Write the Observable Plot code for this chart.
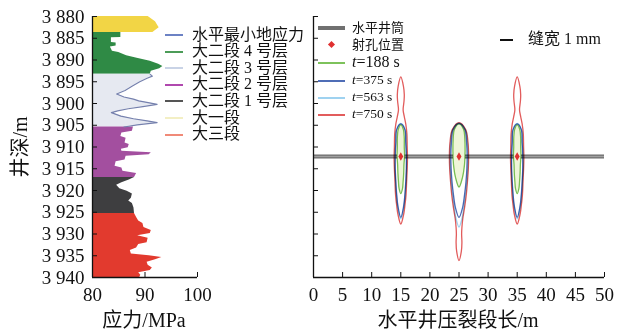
<!DOCTYPE html>
<html><head><meta charset="utf-8">
<script src="https://cdn.jsdelivr.net/npm/d3@7"></script>
<script src="https://cdn.jsdelivr.net/npm/@observablehq/plot@0.6"></script>
<style>
body{margin:0;background:#fff;}
#wrap{position:relative;width:627px;height:334px;overflow:hidden;font-family:"Liberation Serif","Noto Sans CJK SC",serif;color:#111;}
#wrap svg{position:absolute;left:0;top:0;}
.lg{position:absolute;white-space:nowrap;line-height:1;}
.sw{position:absolute;}
</style></head><body><div id="wrap"></div>
<script>
// ---------- data ----------
const depthTicks = [3880,3885,3890,3895,3900,3905,3910,3915,3920,3925,3930,3935,3940];
const stressTicks = [80,90,100];
const lengthTicks = [0,5,10,15,20,25,30,35,40,45,50];

const layerNames = ["大一段","大二段 4 号层","大二段 3 号层","大二段 2 号层","大二段 1 号层","大三段"];
const layerColors = ["#f2d545","#2f8a45","#e6e9f1","#a34f9f","#3e3e40","#e23a2e"];

const depthL1 = [3880,3880.5,3881.2,3882,3882.6,3883.2,3883.7];
const stressL1 = [90.6,91.2,92.0,92.4,92.7,92.0,91.5];
const depthL24 = [3883.7,3884.8,3884.9,3886.0,3886.1,3886.8,3887.0,3888.0,3888.3,3889.0,3889.6,3890.3,3891.0,3891.5,3892.0,3892.6,3893.3];
const stressL24 = [85.4,85.4,83.6,83.6,84.5,84.5,83.4,83.8,85.0,86.5,88.5,91.0,92.6,93.4,92.8,91.2,91.0];
const depthL23 = [3893.3,3893.7,3894.2,3895.0,3896.0,3897.0,3897.8,3898.5,3899.0,3899.4,3899.8,3900.2,3900.7,3901.2,3901.7,3902.1,3902.9,3903.5,3904.0,3904.4,3904.9,3905.4];
const stressL23 = [91.0,91.4,90.4,89.0,87.6,86.2,84.6,86.0,87.8,88.8,90.6,92.3,89.6,86.8,84.8,83.6,85.4,87.8,90.4,92.3,88.5,86.0];
const depthL22 = [3905.4,3906.4,3906.8,3907.6,3908.0,3909.1,3909.4,3910.2,3910.5,3911.0,3911.3,3911.8,3912.1,3913.0,3913.4,3914.4,3914.8,3915.6,3916.1,3917.0];
const stressL22 = [87.8,87.6,85.6,85.4,86.4,86.2,87.0,86.8,85.5,85.6,91.2,90.8,86.4,86.2,84.5,84.3,85.6,85.8,88.4,88.0];
const depthL21 = [3917.0,3917.6,3918.2,3918.8,3919.6,3920.2,3920.8,3921.8,3922.4,3923.0,3924.0,3925.3];
const stressL21 = [88.0,87.0,85.6,84.6,85.2,86.6,87.6,87.4,86.9,87.6,87.9,88.0];
const depthL3 = [3925.3,3926.2,3927.0,3927.6,3928.5,3929.2,3929.9,3930.4,3931.0,3932.0,3932.4,3933.2,3933.8,3934.6,3935.0,3935.4,3935.9,3936.5,3937.2,3937.8,3938.4,3938.9,3939.5,3940];
const stressL3 = [88.0,88.4,88.8,89.6,89.8,91.2,91.0,88.6,90.6,90.4,88.8,88.4,87.2,87.4,90.8,93.2,92.0,90.4,90.6,91.4,91.0,88.8,89.2,89.0];

const leftLegendLabels = ["水平最小地应力","大二段 4 号层","大二段 3 号层","大二段 2 号层","大二段 1 号层","大一段","大三段"];
const leftLegendColors = ["#6c82c4","#4c9c58","#c9d3e6","#b048ae","#555555","#f3efc4","#f08a78"];

const fracCenters = [15,25,35];
const wellDepth = 3912.2;
const timeLabels = ["t=750 s","t=563 s","t=375 s","t=188 s"];
const timeColors = ["#e25c5c","#9fd2f0","#4f6db6","#7dc25b"];

// side fractures (15 m, 35 m): depth and half-width (m) of each contour
const sideDepth750 = [3893.9,3896,3898,3899.5,3901.5,3903,3904.7,3907,3910,3912.3,3915,3918,3921,3923.5,3925.4,3927.7];
const sideHalf750 = [0,0.45,0.6,0.55,0.4,0.6,0.85,1.05,1.1,1.15,1.1,1.0,0.9,0.7,0.5,0];
const sideDepth563 = [3904.6,3906,3909,3912,3915,3918,3921,3924,3926.5];
const sideHalf563 = [0,0.75,0.9,1.0,1.0,0.9,0.75,0.5,0];
const sideDepth375 = [3904.7,3906,3909,3912,3915,3918,3921,3923.5,3926.2];
const sideHalf375 = [0,0.7,0.85,0.95,0.95,0.85,0.7,0.5,0];
const sideDepth188 = [3904.9,3906,3908,3910,3912,3914,3916,3918,3919.5,3920.7];
const sideHalf188 = [0,0.45,0.6,0.6,0.65,0.55,0.5,0.4,0.3,0];
// middle fracture (25 m)
const midDepth750 = [3904.4,3906,3909,3912,3915,3918,3921,3924,3926.5,3928.5,3930,3932,3934,3936.1];
const midHalf750 = [0,1.15,1.55,1.65,1.6,1.45,1.25,0.95,0.65,0.5,0.45,0.5,0.4,0];
const midDepth563 = [3904.5,3906,3909,3912,3915,3918,3921,3924,3926.5,3928.4];
const midHalf563 = [0,1.1,1.45,1.55,1.5,1.35,1.1,0.8,0.5,0];
const midDepth375 = [3904.6,3906,3909,3912,3915,3918,3921,3924,3926.2];
const midHalf375 = [0,1.0,1.3,1.4,1.35,1.2,0.95,0.6,0];
const midDepth188 = [3904.7,3906,3908,3911,3914,3917,3919.2];
const midHalf188 = [0,0.8,1.0,1.05,0.95,0.6,0];

// ---------- build tables ----------
const layerData = [
  [depthL1,stressL1],[depthL24,stressL24],[depthL23,stressL23],
  [depthL22,stressL22],[depthL21,stressL21],[depthL3,stressL3]
].flatMap(([ds,ss],i)=>ds.map((d,j)=>({depth:d,stress:ss[j],layer:layerNames[i]})));
const curve23 = layerData.filter(r=>r.layer===layerNames[2]);

function outline(center,time,depths,half){
  const right = depths.map((d,i)=>({x:center+half[i],depth:d}));
  const left = depths.slice(1,-1).map((d,i)=>({x:center-half[i+1],depth:d})).reverse();
  return [...right,...left].map(p=>({...p,id:center+"|"+time,time}));
}
const sideProfiles = {"t=750 s":[sideDepth750,sideHalf750],"t=563 s":[sideDepth563,sideHalf563],"t=375 s":[sideDepth375,sideHalf375],"t=188 s":[sideDepth188,sideHalf188]};
const midProfiles = {"t=750 s":[midDepth750,midHalf750],"t=563 s":[midDepth563,midHalf563],"t=375 s":[midDepth375,midHalf375],"t=188 s":[midDepth188,midHalf188]};
const fracData = [];
for (const t of timeLabels) for (const c of fracCenters) {
  const [ds,hs] = (c===25?midProfiles:sideProfiles)[t];
  fracData.push(...outline(c,t,ds,hs));
}
const perfData = fracCenters.map(c=>({x:c,depth:wellDepth}));

const fmtDepth = d => { const s=String(d); return s.slice(0,1)+" "+s.slice(1); };
const svgStyle = {background:"transparent",fontFamily:"'Liberation Serif','Noto Sans CJK SC',serif",fontSize:"19px",color:"#111",overflow:"visible"};

// ---------- left panel ----------
const left = Plot.plot({
  width:627,height:334,marginLeft:92,marginRight:430,marginTop:16,marginBottom:57,
  style:svgStyle,
  x:{domain:[80,100]},
  y:{domain:[3880,3940],reverse:true},
  color:{domain:layerNames,range:layerColors},
  marks:[
    Plot.areaX(layerData,{y:"depth",x1:80,x2:"stress",fill:"layer",z:"layer"}),
    Plot.lineX(curve23,{x:"stress",y:"depth",stroke:"#7580ad",strokeWidth:1.2}),
    Plot.ruleX([80],{stroke:"#111",strokeWidth:1.3}),
    Plot.ruleY([3940],{stroke:"#111",strokeWidth:1.3}),
    Plot.axisY({ticks:depthTicks,tickFormat:fmtDepth,tickSize:-5,tickPadding:13,label:null,fontSize:19}),
    Plot.axisX({ticks:stressTicks,tickSize:-5,tickPadding:15,label:null,fontSize:19})
  ]
});

// ---------- right panel ----------
const right = Plot.plot({
  width:627,height:334,marginLeft:313,marginRight:23,marginTop:16,marginBottom:57,
  style:svgStyle,
  x:{domain:[0,50]},
  y:{domain:[3880,3940],reverse:true},
  color:{domain:timeLabels,range:timeColors},
  marks:[
    Plot.ruleY([wellDepth],{stroke:"#6d6d6d",strokeWidth:4}),
    Plot.ruleY([wellDepth],{stroke:"#a0a0a0",strokeWidth:1.5}),
    Plot.line(fracData.filter(r=>r.time==="t=188 s"),{x:"x",y:"depth",z:"id",fill:"#eef5d8",stroke:null,curve:"catmull-rom-closed"}),
    Plot.line(fracData,{x:"x",y:"depth",z:"id",stroke:"time",strokeWidth:1.3,curve:"catmull-rom-closed",mixBlendMode:"multiply"}),
    Plot.dot(perfData,{x:"x",y:"depth",r:2.6,fill:"#e03030",symbol:"diamond"}),
    Plot.ruleX([0],{stroke:"#111",strokeWidth:1.3}),
    Plot.ruleY([3940],{stroke:"#111",strokeWidth:1.3}),
    Plot.axisY({ticks:depthTicks,tickFormat:()=>"",tickSize:-5,label:null}),
    Plot.axisX({ticks:lengthTicks,tickSize:-5,tickPadding:15,label:null,fontSize:19})
  ]
});

const wrap = document.getElementById("wrap");
wrap.appendChild(left);
wrap.appendChild(right);

function addText(html,x,y,size,extra=""){
  const d=document.createElement("div");
  d.className="lg";
  d.style.cssText=`left:${x}px;top:${y}px;font-size:${size}px;${extra}`;
  d.innerHTML=html; wrap.appendChild(d); return d;
}
function addSwatch(x1,x2,y,color,w){
  const d=document.createElement("div");
  d.className="sw";
  d.style.cssText=`left:${x1}px;top:${y-w/2}px;width:${x2-x1}px;height:${w}px;background:${color};`;
  wrap.appendChild(d);
}
// left legend
leftLegendLabels.forEach((lab,i)=>{
  const cy = 35 + i*16.6;
  addSwatch(165,183,cy,leftLegendColors[i],2);
  addText(lab,192,cy-8.5,16);
});
// right legend
addSwatch(318,345,28,"#707070",4);
addText("水平井筒",352,28-7,13);
const pd=document.createElement("div");
pd.className="sw";
pd.style.cssText="left:329px;top:42px;width:5px;height:5px;background:#e03030;transform:rotate(45deg);";
wrap.appendChild(pd);
addText("射孔位置",352,45-7,13);
const legendTimes=[["188",16,63],["375",13.5,81],["563",13.5,98],["750",13.5,115]];
const legendTimeColors=["#7dc25b","#4f6db6","#9fd2f0","#e25c5c"];
legendTimes.forEach(([v,sz,cy],i)=>{
  addSwatch(318,345,cy,legendTimeColors[i],2);
  addText(`<i>t</i>=${v} s`,352,cy-sz/2-1,sz);
});
addSwatch(500,513,40,"#111",1.2);
addText("缝宽 1 mm",528,40-9,16);

// axis titles
addText("应力/MPa",144,310,20,"transform:translateX(-50%);");
addText("水平井压裂段长/m",458,310,20,"transform:translateX(-50%);");
addText("井深/m",20,147,20,"transform:translate(-50%,-50%) rotate(-90deg);");
</script></body></html>
